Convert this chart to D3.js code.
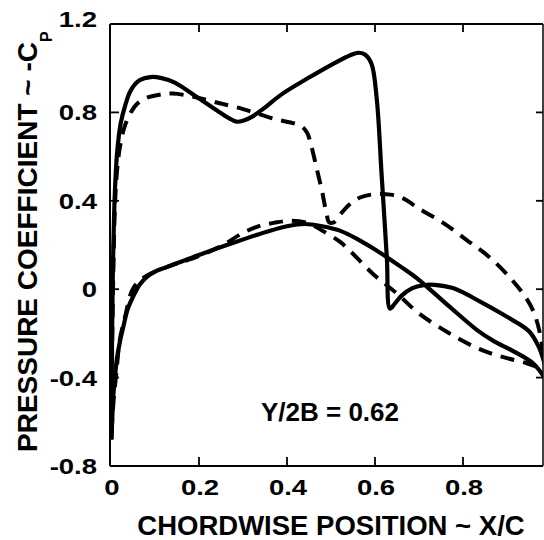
<!DOCTYPE html>
<html>
<head>
<meta charset="utf-8">
<script src="https://cdn.jsdelivr.net/npm/d3@7"></script>
<style>
  html, body { margin: 0; padding: 0; background: #fff; }
  svg { display: block; }
  text { font-family: "Liberation Sans", Arial, Helvetica, sans-serif; font-weight: bold; fill: #000; }
</style>
</head>
<body>
<svg id="chart" width="544" height="540"></svg>
<script>
// Axis ticks
const xTicks = [0, 0.2, 0.4, 0.6, 0.8];
const xTickLabels = ["0", "0.2", "0.4", "0.6", "0.8"];
const yTicks = [-0.8, -0.4, 0, 0.4, 0.8, 1.2];
const yTickLabels = ["-0.8", "-0.4", "0", "0.4", "0.8", "1.2"];

// Pressure distributions, [x/c, -Cp]
const solidUpper = [
  [0.001,-0.68],[0.002,-0.3],[0.004,0.05],[0.006,0.25],[0.009,0.45],[0.014,0.62],
  [0.022,0.75],[0.032,0.83],[0.045,0.9],[0.065,0.945],[0.09,0.96],[0.115,0.955],
  [0.145,0.935],[0.195,0.87],[0.24,0.81],[0.27,0.772],[0.285,0.758],[0.3,0.762],
  [0.32,0.78],[0.345,0.815],[0.39,0.885],[0.445,0.952],[0.505,1.02],[0.545,1.06],
  [0.562,1.07],[0.577,1.062],[0.592,1.02],[0.604,0.86],[0.615,0.52],[0.627,0.14],
  [0.634,-0.088],[0.645,-0.065],[0.66,-0.03],[0.685,0.005],[0.71,0.018],[0.735,0.02],
  [0.777,0.005],[0.84,-0.057],[0.9,-0.125],[0.95,-0.19],[0.972,-0.26],[0.986,-0.34],
  [0.998,-0.42]
];
const solidLower = [
  [0.001,-0.68],[0.003,-0.58],[0.005,-0.49],[0.009,-0.4],[0.013,-0.32],[0.02,-0.24],
  [0.028,-0.17],[0.038,-0.09],[0.05,-0.035],[0.065,0.02],[0.081,0.055],[0.1,0.08],
  [0.127,0.1],[0.2,0.155],[0.278,0.21],[0.354,0.26],[0.4,0.285],[0.44,0.295],
  [0.48,0.285],[0.52,0.265],[0.566,0.22],[0.6,0.18],[0.627,0.145],[0.66,0.1],
  [0.695,0.05],[0.73,-0.01],[0.77,-0.08],[0.832,-0.185],[0.87,-0.235],[0.914,-0.28],
  [0.959,-0.335],[0.982,-0.39],[0.995,-0.43]
];
const dashedUpper = [
  [0.001,-0.65],[0.003,-0.2],[0.006,0.15],[0.009,0.38],[0.013,0.52],[0.02,0.64],
  [0.03,0.73],[0.045,0.8],[0.06,0.84],[0.08,0.865],[0.11,0.88],[0.14,0.885],
  [0.19,0.87],[0.24,0.845],[0.3,0.815],[0.368,0.772],[0.43,0.74],[0.445,0.71],
  [0.455,0.65],[0.467,0.55],[0.48,0.44],[0.49,0.34],[0.496,0.302],[0.506,0.302],
  [0.52,0.335],[0.54,0.38],[0.566,0.415],[0.6,0.43],[0.635,0.428],[0.665,0.41],
  [0.7,0.365],[0.755,0.3],[0.81,0.22],[0.86,0.145],[0.91,0.045],[0.94,-0.03],
  [0.96,-0.1],[0.975,-0.2],[0.985,-0.32],[0.995,-0.42]
];
const dashedLower = [
  [0.001,-0.65],[0.006,-0.5],[0.012,-0.38],[0.02,-0.23],[0.032,-0.125],[0.047,-0.01],
  [0.06,0.03],[0.08,0.06],[0.12,0.095],[0.2,0.15],[0.255,0.2],[0.3,0.255],
  [0.34,0.288],[0.37,0.3],[0.41,0.31],[0.45,0.298],[0.48,0.265],[0.52,0.215],
  [0.545,0.17],[0.595,0.07],[0.65,-0.02],[0.7,-0.11],[0.765,-0.195],[0.82,-0.255],
  [0.86,-0.288],[0.9,-0.312],[0.945,-0.335],[0.975,-0.36],[0.99,-0.39]
];

const xTitle = "CHORDWISE POSITION ~ X/C";
const yTitle = "PRESSURE COEFFICIENT ~ -C";
const yTitleSub = "P";
const caseLabel = "Y/2B = 0.62";

const svg = d3.select("#chart");

const frameL = 110, frameR = 543, frameT = 24, frameB = 466;
const x = d3.scaleLinear().domain([0, 1]).range([111, 551]);
const y = d3.scaleLinear().domain([-0.8, 1.2]).range([frameB, frameT]);

// Frame
const frame = svg.append("g").attr("stroke", "#000").attr("stroke-width", 2).attr("fill", "none");
frame.append("line").attr("x1", frameL).attr("x2", frameR).attr("y1", frameT).attr("y2", frameT);
frame.append("line").attr("x1", frameL).attr("x2", frameR).attr("y1", frameB).attr("y2", frameB);
frame.append("line").attr("x1", frameL).attr("x2", frameL).attr("y1", frameT).attr("y2", frameB);
frame.append("line").attr("x1", frameR).attr("x2", frameR).attr("y1", frameT).attr("y2", frameB).attr("stroke-width", 1.5);

// Inward ticks on all four sides
const ticks = svg.append("g").attr("stroke", "#000").attr("stroke-width", 1.8);
xTicks.filter(d => d > 0).forEach(d => {
  ticks.append("line").attr("x1", x(d)).attr("x2", x(d)).attr("y1", frameB).attr("y2", frameB - 9);
  ticks.append("line").attr("x1", x(d)).attr("x2", x(d)).attr("y1", frameT).attr("y2", frameT + 8);
});
yTicks.filter(d => d > -0.8 && d < 1.2).forEach(d => {
  ticks.append("line").attr("x1", frameL).attr("x2", frameL + 9).attr("y1", y(d)).attr("y2", y(d));
  ticks.append("line").attr("x1", frameR).attr("x2", frameR - 7).attr("y1", y(d)).attr("y2", y(d));
});

// Tick labels
const tickFont = 22, stretch = 1.25;
svg.append("g").selectAll("text").data(xTicks).join("text")
  .attr("transform", d => `translate(${x(d) + 1},495) scale(${stretch},1)`)
  .attr("text-anchor", "middle")
  .attr("font-size", tickFont)
  .text((d, i) => xTickLabels[i]);
svg.append("g").selectAll("text").data(yTicks).join("text")
  .attr("transform", d => `translate(97,${y(d) + (d === 1.2 ? 3 : 8)}) scale(${stretch},1)`)
  .attr("text-anchor", "end")
  .attr("font-size", tickFont)
  .text((d, i) => yTickLabels[i]);

// Axis titles
svg.append("text")
  .attr("x", 331).attr("y", 535)
  .attr("text-anchor", "middle")
  .attr("font-size", 27.5)
  .text(xTitle);
const yt = svg.append("text")
  .attr("transform", "translate(37,452) rotate(-90)")
  .attr("text-anchor", "start")
  .attr("font-size", 28);
yt.append("tspan").text(yTitle);
yt.append("tspan").attr("dy", 15).attr("font-size", 16).text(yTitleSub);

// Case label
svg.append("text")
  .attr("x", 330).attr("y", 421)
  .attr("text-anchor", "middle")
  .attr("font-size", 26)
  .text(caseLabel);

// Curves, clipped to the frame
svg.append("clipPath").attr("id", "plotClip")
  .append("rect").attr("x", frameL - 5).attr("y", frameT).attr("width", frameR - frameL + 5).attr("height", frameB - frameT);

const line = d3.line()
  .x(d => x(d[0]))
  .y(d => y(d[1]))
  .curve(d3.curveCatmullRom.alpha(0.5));

const curves = svg.append("g").attr("clip-path", "url(#plotClip)")
  .attr("fill", "none").attr("stroke", "#000").attr("stroke-linejoin", "round");

[solidUpper, solidLower].forEach(s => {
  curves.append("path").attr("d", line(s)).attr("stroke-width", 4.2);
});
[dashedUpper, dashedLower].forEach(s => {
  curves.append("path").attr("d", line(s)).attr("stroke-width", 4)
    .attr("stroke-dasharray", "14 9");
});
</script>
</body>
</html>
